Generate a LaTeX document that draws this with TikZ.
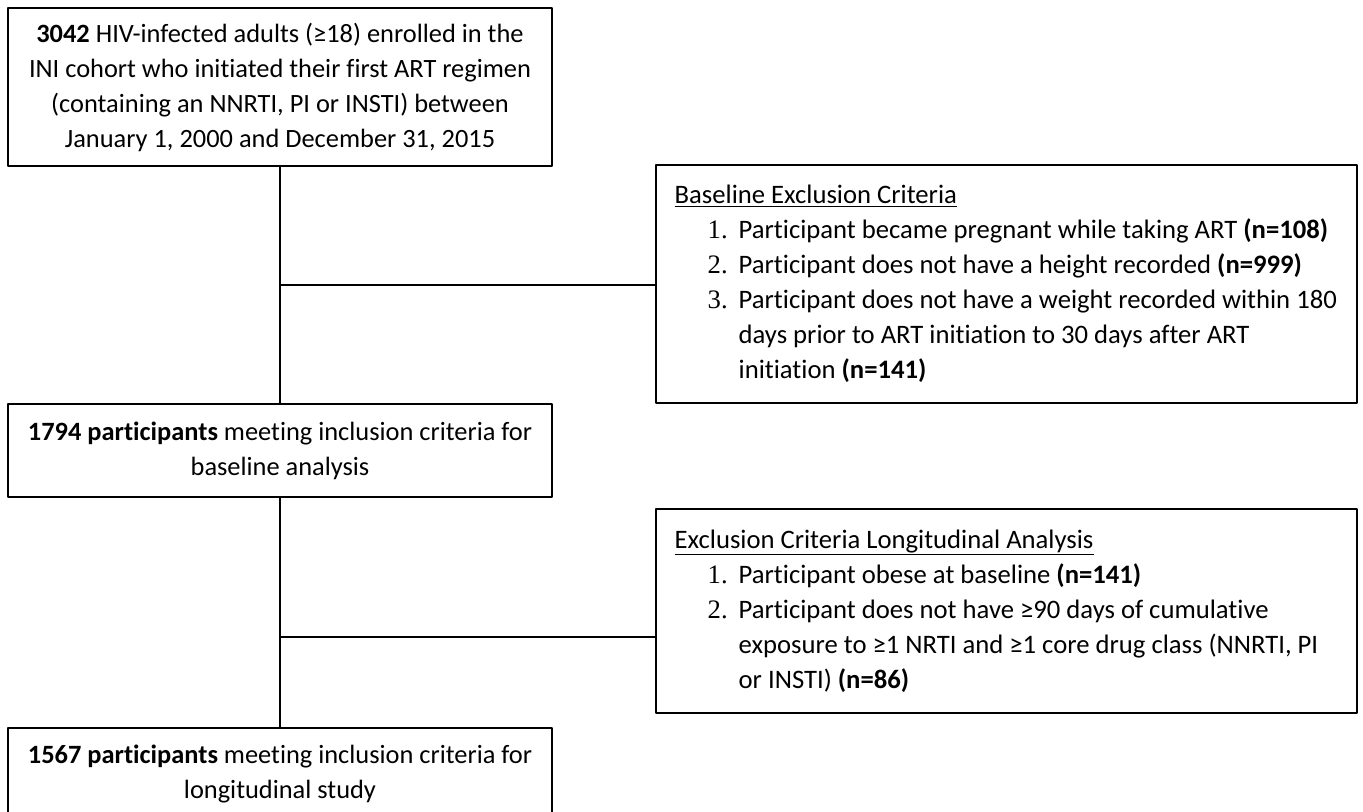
\documentclass[tikz,border=0pt]{standalone}
\usepackage{fontspec}
\setmainfont[Ligatures=NoCommon]{Carlito}
\newfontfamily\numfont{Liberation Serif}
\usepackage{tikz}
\usetikzlibrary{positioning}

\tikzset{
	flowbox/.style={draw=black, line width=1.2pt, align=center, inner sep=0pt,
		minimum width=408pt, font=\fontsize{19.8}{26.25}\selectfont},
	exclbox/.style={draw=black, line width=1.2pt, align=left, inner xsep=14pt, inner ysep=0pt,
		text width=497.75pt, minimum height=#1, font=\fontsize{20}{26.25}\selectfont},
	trunk/.style={draw=black, line width=1.2pt}
}
\newcommand{\critem}[2]{\par\leftskip=48pt\rightskip=0pt plus 1fil\spaceskip=0pt\xspaceskip=0pt
	\noindent\llap{\makebox[23.25pt][l]{\numfont #1.}}#2\par}

\begin{document}
\begin{tikzpicture}[line cap=round,line join=round, x=0.75pt, y=-0.75pt]
						\useasboundingbox (0,0) rectangle (1363,812);
						\clip (0,0) rectangle (1363,812);
						% main column
						\node[flowbox, minimum height=118.5pt] (start) at (280,87)
							{\textbf{3042} HIV-infected adults (≥18) enrolled in the\\
							 INI cohort who initiated their first ART regimen\\
							 (containing an NNRTI, PI or INSTI) between\\
							 January 1, 2000 and December 31, 2015};
						\node[flowbox, minimum height=69.75pt] (baseline) at (280,450.5)
							{\textbf{1794 participants} meeting inclusion criteria for\\
							 baseline analysis};
						\node[flowbox, minimum height=69.75pt] (longit) at (280,774.5)
							{\textbf{1567 participants} meeting inclusion criteria for\\
							 longitudinal study};
						% exclusion boxes
						\node[exclbox=178.5pt] (exclbase) at (1006.5,284)
							{\spaceskip=0pt\xspaceskip=0pt\underline{Baseline Exclusion Criteria}
							 \critem{1}{Participant became pregnant while taking ART \textbf{(n=108)}}
							 \critem{2}{Participant does not have a height recorded \textbf{(n=999)}}
							 \critem{3}{Participant does not have a weight recorded within 180\newline
								days prior to ART initiation to 30 days after ART\newline
								initiation \textbf{(n=141)}}};
						\node[exclbox=153pt] (excllong) at (1006.5,611)
							{\spaceskip=0pt\xspaceskip=0pt\underline{Exclusion Criteria Longitudinal Analysis}
							 \critem{1}{Participant obese at baseline \textbf{(n=141)}}
							 \critem{2}{Participant does not have ≥90 days of cumulative\newline
								exposure to ≥1 NRTI and ≥1 core drug class (NNRTI, PI\newline
								or INSTI) \textbf{(n=86)}}};
						% connectors
						\coordinate (jbase) at (280,285);
						\coordinate (jlong) at (280,637);
						\draw[trunk] (start.south) -- (baseline.north);
						\draw[trunk] (baseline.south) -- (longit.north);
						\draw[trunk] (jbase) -- (exclbase.west |- jbase);
						\draw[trunk] (jlong) -- (excllong.west |- jlong);
					\end{tikzpicture}
\end{document}
